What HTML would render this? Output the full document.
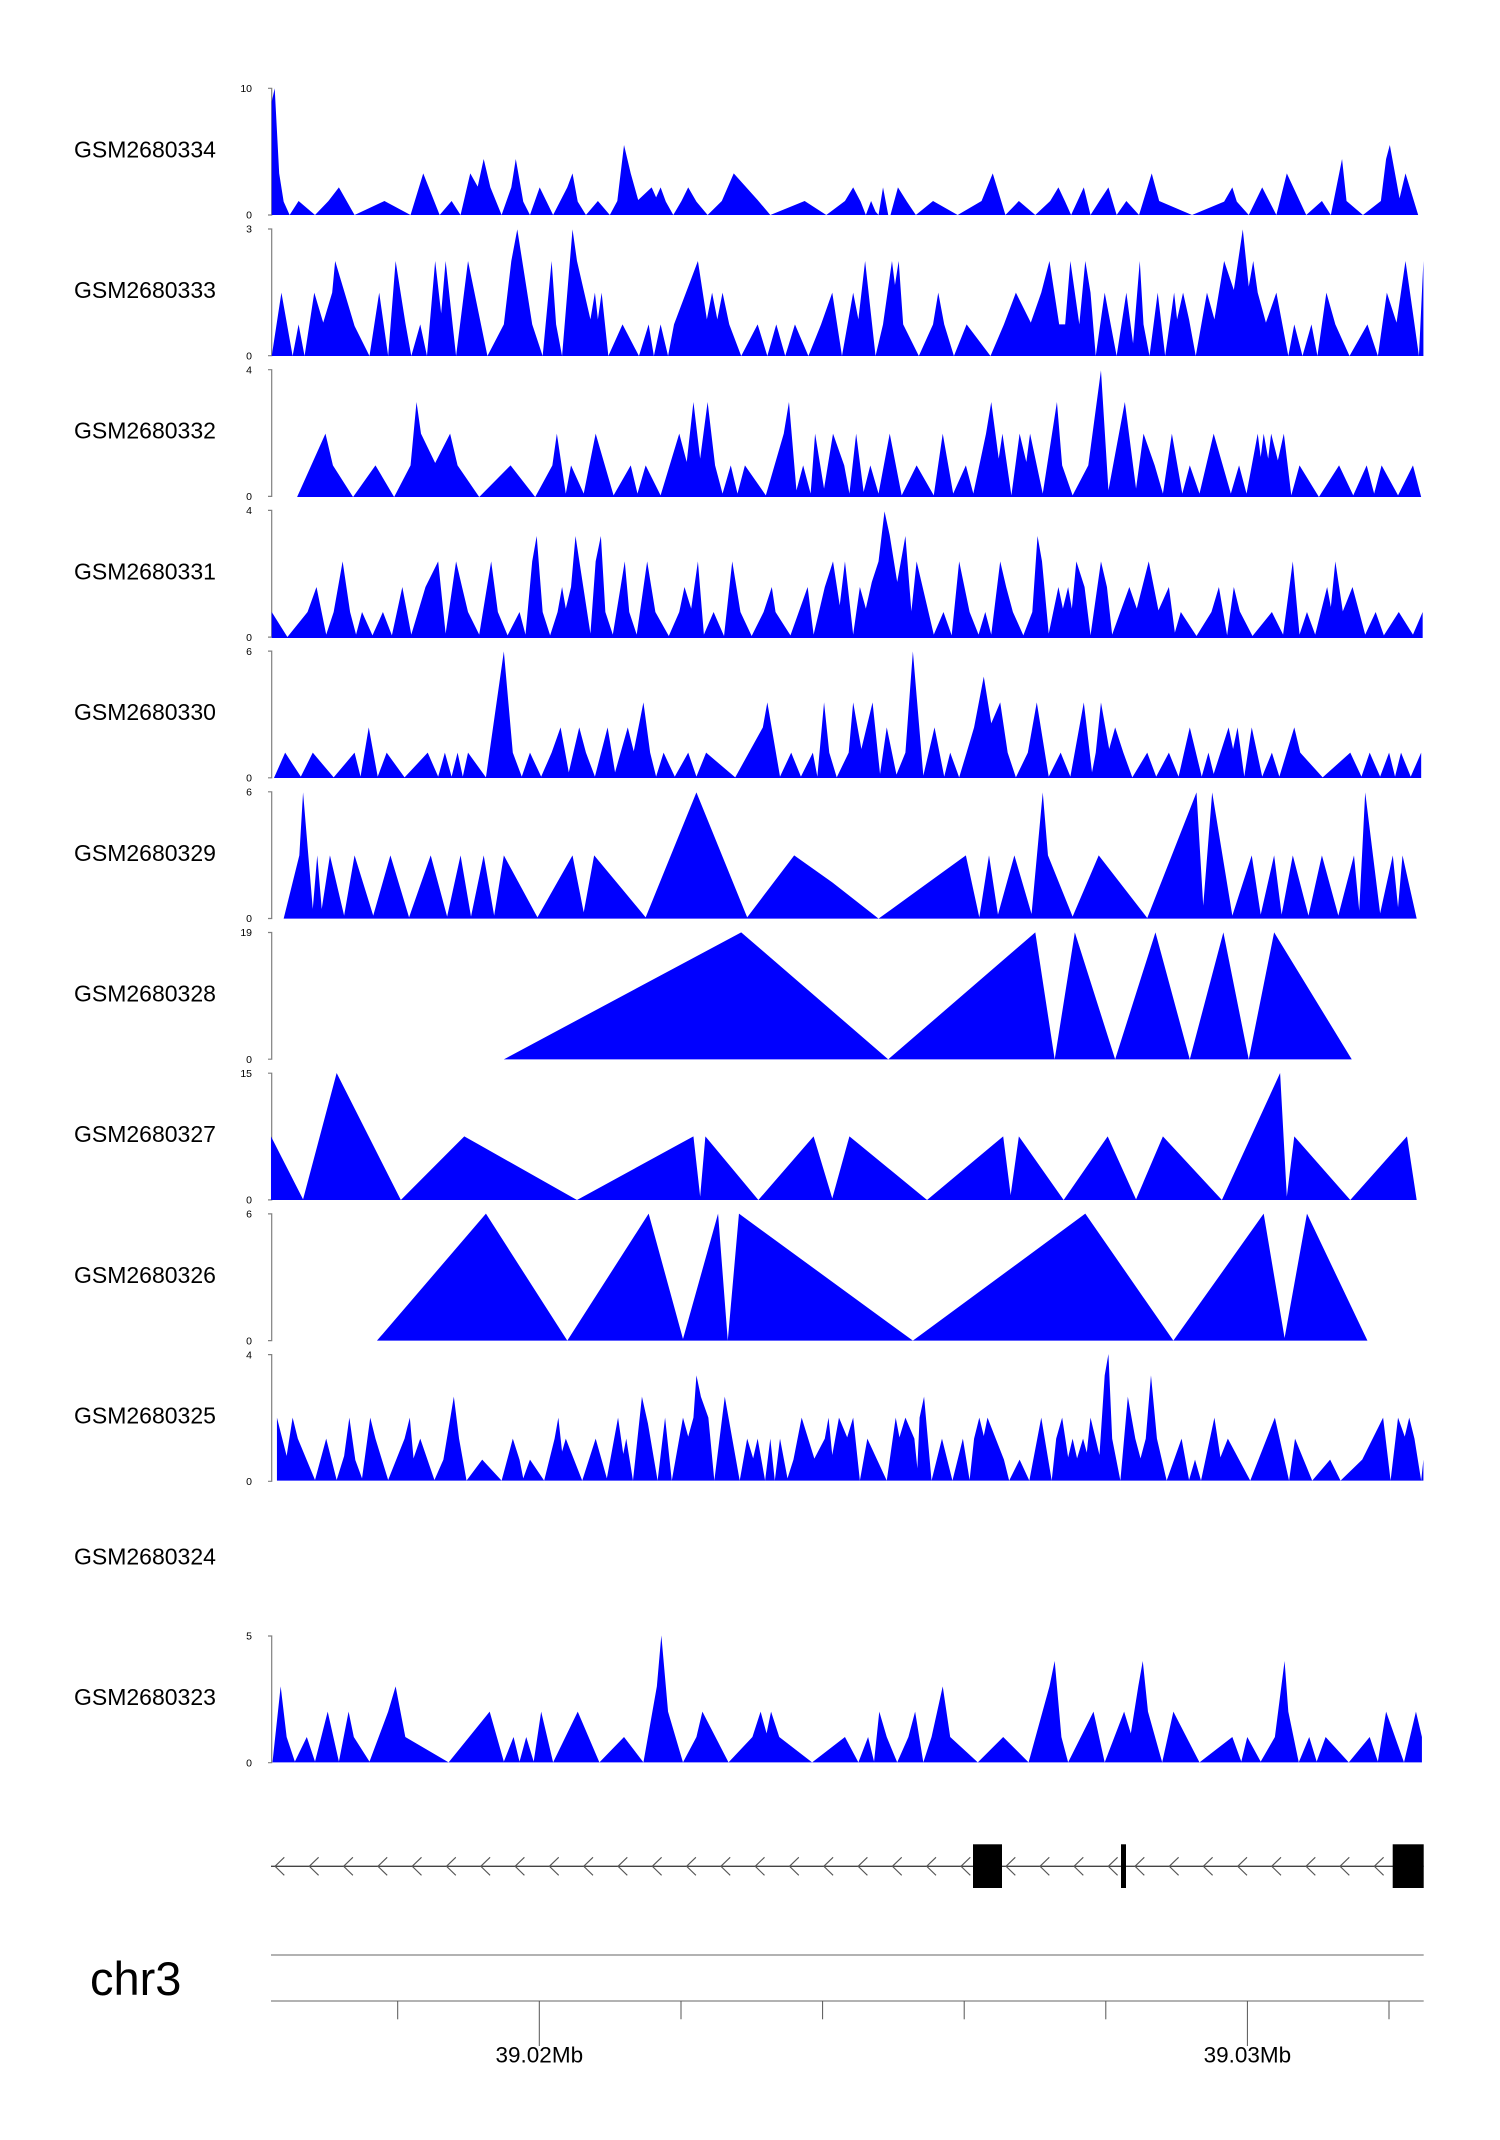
<!DOCTYPE html>
<html><head><meta charset="utf-8"><style>
html,body{margin:0;padding:0;background:#fff;}
svg{display:block;}
text{font-family:"Liberation Sans",Arial,sans-serif;fill:#000;}
</style></head><body>
<svg width="1500" height="2140" viewBox="0 0 1500 2140" xmlns="http://www.w3.org/2000/svg">
<rect x="0" y="0" width="1500" height="2140" fill="#fff"/>

<!-- labels -->
<g font-size="23">
<text x="74" y="157.3">GSM2680334</text>
<text x="74" y="298.0">GSM2680333</text>
<text x="74" y="438.7">GSM2680332</text>
<text x="74" y="579.4">GSM2680331</text>
<text x="74" y="720.1">GSM2680330</text>
<text x="74" y="860.8">GSM2680329</text>
<text x="74" y="1001.5">GSM2680328</text>
<text x="74" y="1142.2">GSM2680327</text>
<text x="74" y="1282.9">GSM2680326</text>
<text x="74" y="1423.6">GSM2680325</text>
<text x="74" y="1564.3">GSM2680324</text>
<text x="74" y="1705.0">GSM2680323</text>
</g>

<!-- y axes -->
<g stroke="#808080" stroke-width="1.2" fill="none">
<path d="M268,88.3H271.7V215H268"/>
<path d="M268,229H271.7V355.7H268"/>
<path d="M268,369.7H271.7V496.4H268"/>
<path d="M268,510.4H271.7V637.1H268"/>
<path d="M268,651.1H271.7V777.8H268"/>
<path d="M268,791.8H271.7V918.5H268"/>
<path d="M268,932.5H271.7V1059.2H268"/>
<path d="M268,1073.2H271.7V1199.9H268"/>
<path d="M268,1213.9H271.7V1340.6H268"/>
<path d="M268,1354.6H271.7V1481.3H268"/>
<path d="M268,1636H271.7V1762.7H268"/>
</g>
<g font-size="10.5" text-anchor="end" fill="#222">
<text x="252" y="92">10</text><text x="252" y="218.7">0</text>
<text x="252" y="232.7">3</text><text x="252" y="359.4">0</text>
<text x="252" y="373.4">4</text><text x="252" y="500.1">0</text>
<text x="252" y="514.1">4</text><text x="252" y="640.8">0</text>
<text x="252" y="654.8">6</text><text x="252" y="781.5">0</text>
<text x="252" y="795.5">6</text><text x="252" y="922.2">0</text>
<text x="252" y="936.2">19</text><text x="252" y="1062.9">0</text>
<text x="252" y="1076.9">15</text><text x="252" y="1203.6">0</text>
<text x="252" y="1217.6">6</text><text x="252" y="1344.3">0</text>
<text x="252" y="1358.3">4</text><text x="252" y="1485">0</text>
<text x="252" y="1639.7">5</text><text x="252" y="1766.4">0</text>
</g>

<!-- data -->
<g fill="#0000ff" stroke="none">
<g transform="translate(265,80) scale(0.7464,0.33333)">
<polygon points="9,405 9,65 13,25 19,280 25,365 33,405 45,363 67,405 85,363 99,322 120,405 160,363 195,405 212,280 234,405 250,363 262,405 275,280 285,320 293,237 302,322 317,405 330,322 336,237 346,365 355,405 368,322 386,405 405,322 412,280 419,365 430,405 446,363 462,405 472,363 481,195 490,280 500,360 518,322 524,352 530,322 537,365 547,405 558,363 567,322 578,365 593,405 612,363 628,280 660,360 677,405 723,363 752,405 777,363 788,322 798,365 805,405 812,363 818,395 822,405 828,322 835,405 838,405 848,322 860,365 872,405 895,363 928,405 960,363 975,280 992,405 1010,363 1032,405 1052,363 1063,322 1072,365 1080,405 1097,322 1106,405 1118,363 1130,322 1141,405 1154,363 1171,405 1188,280 1198,363 1242,405 1285,365 1296,322 1302,365 1318,405 1336,322 1355,405 1369,280 1395,405 1416,363 1428,405 1443,237 1449,363 1471,405 1495,363 1502,237 1507,195 1520,355 1528,280 1545,405"/>
<polygon points="9,828 22,638 37,828 45,733 53,828 66,638 78,728 90,638 94,543 120,738 140,828 153,638 165,828 175,543 188,728 196,828 208,733 217,828 228,543 236,700 242,543 256,828 272,543 298,828 320,733 330,543 338,448 358,733 372,828 384,543 390,733 398,828 412,448 418,543 436,718 442,638 446,718 451,638 460,828 479,733 501,828 514,733 521,828 530,733 540,828 548,733 580,543 592,718 599,638 606,718 613,638 622,733 638,828 660,733 673,828 685,733 697,828 710,733 728,828 745,733 760,638 773,828 788,638 795,718 804,543 818,828 828,733 840,543 844,615 849,543 855,733 876,828 895,733 902,638 910,733 923,828 940,733 972,828 990,733 1006,638 1026,728 1040,638 1051,543 1064,733 1072,733 1079,543 1091,733 1099,543 1106,638 1113,828 1125,638 1141,828 1154,638 1163,790 1172,543 1177,733 1185,828 1196,638 1206,828 1218,638 1222,718 1230,638 1238,718 1247,828 1262,638 1272,718 1285,543 1298,630 1310,448 1318,620 1324,543 1330,638 1341,728 1355,638 1371,828 1379,733 1390,828 1402,733 1410,828 1422,638 1434,733 1453,828 1477,733 1491,828 1503,638 1516,728 1528,543 1538,700 1546,828 1552,543 1552,828"/>
</g>
<g transform="translate(265,362) scale(0.7464,0.33333)">
<polygon points="43,405 81,215 91,310 118,405 148,310 173,405 195,310 203,120 209,215 228,303 248,215 258,310 287,405 329,310 362,405 385,310 391,215 403,395 410,310 427,395 443,215 467,400 490,310 499,395 510,310 530,400 555,215 565,300 574,120 583,290 593,120 603,310 613,395 624,310 633,395 643,310 671,400 695,215 702,120 712,385 721,310 731,395 737,215 749,380 761,215 776,310 783,395 792,215 802,390 811,310 822,395 837,215 853,400 873,310 896,400 908,215 922,395 939,310 949,395 966,215 973,120 983,290 988,215 1000,400 1011,215 1020,300 1025,215 1042,395 1061,120 1068,310 1082,400 1103,310 1120,25 1130,385 1152,120 1167,380 1177,215 1192,310 1203,395 1215,215 1229,395 1239,310 1252,395 1271,215 1294,395 1305,310 1315,395 1330,215 1334,285 1338,215 1344,290 1348,215 1357,295 1365,215 1375,400 1386,310 1412,405 1439,310 1458,400 1476,310 1486,395 1496,310 1518,400 1538,310 1549,405"/>
<polygon points="9,828 9,750 30,825 57,750 69,675 82,818 92,750 104,598 114,750 122,818 130,750 144,820 158,750 170,820 184,675 196,818 215,675 232,598 242,815 256,598 264,675 272,750 287,818 303,598 312,750 325,820 341,750 349,818 358,598 364,522 372,750 382,820 392,750 398,675 403,740 410,675 416,522 436,815 443,598 450,522 456,750 466,818 482,598 488,750 498,818 512,598 523,750 541,822 555,750 562,675 571,740 580,598 588,818 601,750 615,822 626,598 637,750 652,822 668,750 679,675 684,750 704,820 727,675 735,818 750,675 761,598 770,730 777,598 788,818 797,675 805,740 813,660 822,598 830,448 837,520 847,660 858,522 866,748 873,598 896,818 909,750 920,820 930,598 944,750 956,818 965,750 973,818 985,598 993,675 1002,750 1016,820 1028,750 1035,522 1041,598 1050,815 1063,675 1069,740 1076,675 1081,740 1087,598 1098,675 1106,820 1120,598 1128,675 1135,818 1158,675 1168,740 1184,598 1197,745 1211,675 1219,812 1227,750 1248,822 1268,750 1278,675 1289,820 1298,675 1306,748 1323,822 1349,750 1364,818 1377,598 1386,818 1396,750 1407,818 1423,675 1428,735 1434,598 1444,748 1457,675 1474,818 1488,750 1499,820 1519,750 1538,818 1551,750 1551,828"/>
</g>
<g transform="translate(265,644) scale(0.7464,0.33333)">
<polygon points="12,402 27,326 48,398 64,326 92,400 120,326 128,398 139,250 151,398 163,326 187,400 218,326 232,398 241,326 250,398 258,326 265,398 272,326 296,400 320,22 332,326 344,398 355,326 370,398 384,326 396,250 407,385 421,250 430,326 442,398 459,250 469,385 486,250 494,322 507,175 516,326 524,398 534,326 549,398 567,326 578,398 591,326 630,400 667,250 673,175 690,398 705,326 718,398 734,326 740,398 749,175 756,326 766,400 782,326 788,175 799,315 814,175 824,390 833,250 846,392 858,326 868,22 882,395 897,250 910,398 918,326 930,400 940,326 950,250 963,98 973,238 985,175 995,326 1006,400 1022,326 1034,175 1050,398 1066,326 1079,398 1097,175 1108,385 1113,326 1120,175 1131,315 1139,250 1150,326 1162,400 1182,326 1194,398 1211,326 1224,398 1239,250 1255,398 1264,326 1271,390 1291,250 1297,315 1303,250 1312,398 1322,250 1336,398 1349,326 1359,398 1379,250 1387,326 1417,400 1454,326 1469,398 1480,326 1494,398 1506,326 1514,398 1522,326 1535,398 1549,326 1549,402"/>
<polygon points="25,824 46,634 51,445 64,795 70,634 76,795 87,634 106,815 120,634 145,815 168,634 193,820 222,634 244,818 262,634 276,818 293,634 307,815 320,634 365,820 412,634 427,805 441,634 510,820 578,445 646,820 709,634 760,715 822,824 939,634 957,820 970,634 982,812 1004,634 1027,810 1042,445 1049,634 1082,818 1117,634 1182,822 1248,445 1257,785 1269,445 1296,815 1322,634 1334,812 1352,634 1362,812 1377,634 1398,815 1416,634 1438,815 1459,634 1466,800 1474,445 1494,808 1511,634 1518,790 1524,634 1543,824"/>
</g>
<g transform="translate(265,926) scale(0.7464,0.33333)">
<polygon points="320,400 638,19 835,400 1032,19 1058,400 1085,19 1139,400 1193,19 1239,400 1284,19 1318,400 1352,19 1456,400"/>
<polygon points="8,822 8,631 51,820 96,441 182,822 267,631 418,822 574,631 583,812 590,631 661,822 735,631 760,817 783,631 887,822 989,631 999,807 1010,631 1070,822 1129,631 1167,820 1203,631 1282,822 1360,441 1369,812 1379,631 1454,822 1530,631 1543,822"/>
<polygon points="150,1244 296,863 405,1244 514,863 560,1239 607,863 620,1244 635,863 868,1244 1099,863 1217,1244 1338,863 1366,1236 1396,863 1477,1244"/>
</g>
<g transform="translate(265,1350) scale(0.7464,0.33333)">
<polygon points="16,392 16,203 29,318 37,203 44,266 67,390 82,266 96,390 106,318 113,203 121,330 130,385 141,203 148,266 165,390 187,266 194,203 199,325 208,266 227,390 239,329 253,140 260,266 270,392 291,329 317,392 332,266 341,329 346,385 355,329 374,392 388,266 393,203 398,305 403,266 425,392 443,266 458,385 473,203 480,312 484,266 493,392 505,140 513,220 526,392 536,203 545,392 560,203 567,260 574,203 578,76 584,140 594,203 602,392 616,140 636,392 646,266 654,325 660,266 670,392 677,266 683,392 690,266 700,385 708,329 719,203 736,326 750,266 755,203 760,315 769,203 780,262 788,203 797,392 807,266 833,392 845,203 850,262 858,203 870,266 874,355 877,203 883,140 893,392 907,266 921,392 935,266 944,390 950,266 957,203 963,258 968,203 990,329 997,392 1011,329 1024,392 1040,203 1054,392 1060,266 1068,203 1076,322 1082,266 1088,325 1096,266 1101,308 1106,203 1118,315 1125,76 1130,12 1135,266 1146,392 1156,140 1166,266 1173,325 1180,266 1187,76 1195,266 1208,392 1228,266 1238,390 1246,329 1254,392 1272,203 1280,322 1290,266 1305,329 1320,392 1353,203 1372,392 1380,266 1403,392 1427,329 1441,392 1470,329 1498,203 1508,392 1518,203 1527,260 1533,203 1540,266 1549,392 1552,329 1552,392"/>
<polygon points="10,1237 21,1009 29,1161 40,1235 56,1161 67,1235 84,1085 99,1235 112,1085 119,1161 140,1235 165,1085 175,1009 188,1161 246,1237 301,1085 320,1235 333,1161 341,1235 350,1161 360,1235 370,1085 386,1237 419,1085 448,1237 481,1161 507,1237 525,1009 531,856 540,1085 560,1237 578,1161 586,1085 621,1237 653,1161 664,1085 672,1150 678,1085 689,1161 733,1237 777,1161 795,1237 808,1161 816,1235 823,1085 833,1161 847,1237 862,1161 871,1085 882,1237 893,1161 908,1009 918,1161 955,1237 989,1161 1023,1237 1051,1009 1058,933 1067,1161 1076,1237 1110,1085 1125,1237 1151,1085 1160,1150 1170,1009 1176,933 1183,1085 1202,1237 1217,1085 1252,1237 1296,1161 1308,1235 1316,1161 1334,1235 1353,1161 1366,933 1371,1085 1385,1237 1399,1161 1409,1235 1421,1161 1452,1237 1480,1161 1491,1235 1502,1085 1526,1237 1542,1085 1550,1161 1550,1237"/>
</g>
</g>

<!-- gene track -->
<line x1="271" y1="1866.3" x2="1423.7" y2="1866.3" stroke="#444" stroke-width="1.3"/>
<g stroke="#555" stroke-width="1.1" fill="none">
<path d="M284.3,1857.3L275,1866.3L284.3,1875.3 M318.6,1857.3L309.3,1866.3L318.6,1875.3 M352.9,1857.3L343.6,1866.3L352.9,1875.3 M387.2,1857.3L377.9,1866.3L387.2,1875.3 M421.5,1857.3L412.2,1866.3L421.5,1875.3 M455.8,1857.3L446.5,1866.3L455.8,1875.3 M490.1,1857.3L480.8,1866.3L490.1,1875.3 M524.4,1857.3L515.1,1866.3L524.4,1875.3 M558.7,1857.3L549.4,1866.3L558.7,1875.3 M593,1857.3L583.7,1866.3L593,1875.3 M627.3,1857.3L618,1866.3L627.3,1875.3 M661.6,1857.3L652.3,1866.3L661.6,1875.3 M695.9,1857.3L686.6,1866.3L695.9,1875.3 M730.2,1857.3L720.9,1866.3L730.2,1875.3 M764.5,1857.3L755.2,1866.3L764.5,1875.3 M798.8,1857.3L789.5,1866.3L798.8,1875.3 M833.1,1857.3L823.8,1866.3L833.1,1875.3 M867.4,1857.3L858.1,1866.3L867.4,1875.3 M901.7,1857.3L892.4,1866.3L901.7,1875.3 M936,1857.3L926.7,1866.3L936,1875.3 M970.3,1857.3L961,1866.3L970.3,1875.3"/>
<path d="M1015.3,1857.3L1006,1866.3L1015.3,1875.3 M1049.3,1857.3L1040,1866.3L1049.3,1875.3 M1083.3,1857.3L1074,1866.3L1083.3,1875.3 M1117.6,1857.3L1108.3,1866.3L1117.6,1875.3"/>
<path d="M1144.3,1857.3L1135,1866.3L1144.3,1875.3 M1178.6,1857.3L1169.3,1866.3L1178.6,1875.3 M1212.6,1857.3L1203.3,1866.3L1212.6,1875.3 M1247,1857.3L1237.7,1866.3L1247,1875.3 M1281,1857.3L1271.7,1866.3L1281,1875.3 M1315.3,1857.3L1306,1866.3L1315.3,1875.3 M1349.3,1857.3L1340,1866.3L1349.3,1875.3 M1383.6,1857.3L1374.3,1866.3L1383.6,1875.3"/>
</g>
<g fill="#000">
<rect x="973" y="1844.3" width="29" height="43.7"/>
<rect x="1121" y="1844.3" width="5" height="43.7"/>
<rect x="1392.7" y="1844.3" width="31" height="43.7"/>
</g>

<!-- genome axis -->
<text x="90" y="1995" font-size="47">chr3</text>
<g stroke="#999" stroke-width="1.5">
<line x1="271" y1="1955" x2="1423.7" y2="1955"/>
<line x1="271" y1="2001" x2="1423.7" y2="2001"/>
</g>
<g stroke="#555" stroke-width="1">
<line x1="397.7" y1="2001" x2="397.7" y2="2019.3"/>
<line x1="539.3" y1="2001" x2="539.3" y2="2046"/>
<line x1="681" y1="2001" x2="681" y2="2019.3"/>
<line x1="822.6" y1="2001" x2="822.6" y2="2019.3"/>
<line x1="964.2" y1="2001" x2="964.2" y2="2019.3"/>
<line x1="1105.8" y1="2001" x2="1105.8" y2="2019.3"/>
<line x1="1247.4" y1="2001" x2="1247.4" y2="2046"/>
<line x1="1389" y1="2001" x2="1389" y2="2019.3"/>
</g>
<g font-size="22.5" text-anchor="middle">
<text x="539.3" y="2062.3">39.02Mb</text>
<text x="1247.4" y="2062.3">39.03Mb</text>
</g>
</svg>
</body></html>
